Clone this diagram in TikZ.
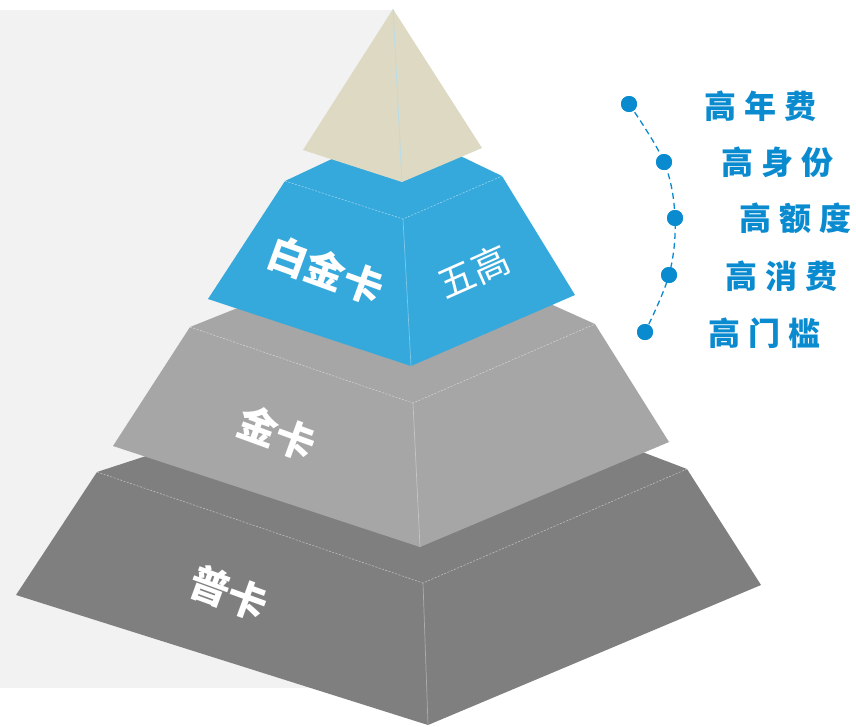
\documentclass[tikz,border=0pt]{standalone}
\usepackage{fontspec}
\setmainfont{Noto Sans CJK SC}
\definecolor{bggray}{HTML}{F2F2F2}
\definecolor{beige}{HTML}{DDD9C3}
\definecolor{tierblue}{HTML}{36A9DC}
\definecolor{tierlight}{HTML}{A6A6A6}
\definecolor{tierdark}{HTML}{7F7F7F}
\definecolor{listblue}{HTML}{0A8ACF}
\begin{document}
\begin{tikzpicture}[x=1pt,y=-1pt,
  edgeline/.style={draw=white, draw opacity=0.55, line width=0.5pt, dash pattern=on 2pt off 1.5pt},
  ridgeline/.style={draw=white, draw opacity=0.35, line width=0.7pt},
  tierlabel/.style={text=white, font=\bfseries\fontsize{40}{42}\selectfont, inner sep=0pt, rotate=-20},
  dotnode/.style={circle, fill=listblue, minimum size=16pt, inner sep=0pt},
  listlabel/.style={text=listblue, font=\bfseries\fontsize{32}{34}\selectfont, anchor=west, inner sep=0pt}]
\useasboundingbox (0,0) rectangle (856,726);
% background panel
\fill[bggray] (0,10) rectangle (392,688);
% bottom tier
\fill[tierdark] (97,472) -- (419,367) -- (687,469) -- (761,585) -- (428,725) -- (16,595) -- cycle;
\draw[edgeline] (97,472) -- (423,583) -- (687,469);
\draw[ridgeline] (423,583) -- (428,725);
% middle tier
\fill[tierlight] (190,327) -- (408,240) -- (595,324) -- (669,442) -- (420,547) -- (113,446) -- cycle;
\draw[edgeline] (190,327) -- (413,403) -- (595,324);
\draw[ridgeline] (413,403) -- (420,547);
% blue tier
\fill[tierblue] (285,181) -- (400,127) -- (502,176) -- (575,295) -- (411,366) -- (208,299) -- cycle;
\draw[edgeline] (285,181) -- (403,219) -- (502,176);
\draw[ridgeline] (403,219) -- (411,366);
% top
\fill[beige] (393,9) -- (482,148) -- (402,182) -- (303,150) -- cycle;
\draw[draw=tierblue!40, line width=0.6pt] (393,9) -- (402,182);
% tier labels
\node[tierlabel] (plat) at (326,270) {白金卡};
\node[text=white, font=\fontsize{37}{39}\selectfont, inner sep=0pt, rotate=24] (five) at (474,272) {五高};
\node[tierlabel] (gold) at (277,433) {金卡};
\node[tierlabel] (common) at (229,593) {普卡};
% list
\node[dotnode] (d1) at (629,104) {};
\node[dotnode] (d2) at (664,162) {};
\node[dotnode] (d3) at (675,218) {};
\node[dotnode] (d4) at (669,275) {};
\node[dotnode] (d5) at (645,332) {};
\draw[listblue, line width=1.3pt, dash pattern=on 6pt off 4pt]
  plot[smooth, tension=0.6] coordinates {(d1.center) (d2.center) (d3.center) (d4.center) (d5.center)};
\foreach \n in {d1,d2,d3,d4,d5} \fill[listblue] (\n) circle (8pt);
\node[listlabel] (l1) at (704,106) {高\hspace{8pt}年\hspace{8pt}费};
\node[listlabel] (l2) at (721,162) {高\hspace{8pt}身\hspace{8pt}份};
\node[listlabel] (l3) at (739,218) {高\hspace{8pt}额\hspace{8pt}度};
\node[listlabel] (l4) at (725,276) {高\hspace{8pt}消\hspace{8pt}费};
\node[listlabel] (l5) at (708,333) {高\hspace{8pt}门\hspace{8pt}槛};
\end{tikzpicture}
\end{document}
